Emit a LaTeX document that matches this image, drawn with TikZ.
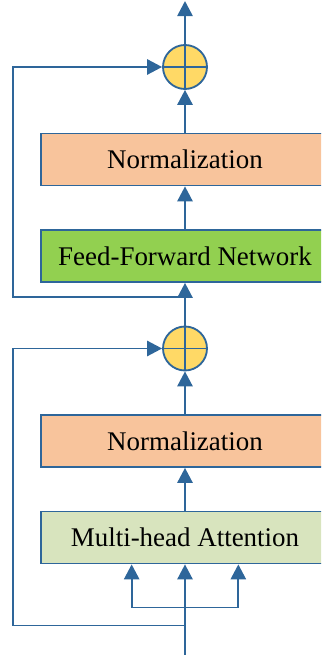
\documentclass[tikz,border=0pt]{standalone}
\usepackage{fontspec}
\setmainfont{Liberation Serif}
\usepackage{tikz}
\usetikzlibrary{arrows.meta,positioning,calc}

\definecolor{lineblue}{RGB}{46,102,154}
\definecolor{normorange}{RGB}{248,196,156}
\definecolor{ffngreen}{RGB}{146,208,80}
\definecolor{attgreen}{RGB}{216,228,190}
\definecolor{addyellow}{RGB}{255,217,102}

\begin{document}
\begin{tikzpicture}[
  >={Triangle[length=0.45cm,width=0.46cm]},
  node distance=1.28cm,
  line width=0.055cm,
  conn/.style={draw=lineblue, ->},
  block/.style={draw=lineblue, minimum width=8.64cm, minimum height=1.56cm, inner sep=0pt, font=\fontsize{23}{27}\selectfont},
  adder/.style={circle, draw=lineblue, fill=addyellow, minimum size=1.32cm, inner sep=0pt,
    path picture={\draw[lineblue] (path picture bounding box.north) -- (path picture bounding box.south)
      (path picture bounding box.west) -- (path picture bounding box.east);}}
]
\path[use as bounding box, clip] (-5.55,-3.525) rectangle (4.08,16.125);

\node[block, fill=attgreen] (att) {Multi-head Attention};
\node[block, fill=normorange, above=of att] (norm1) {Normalization};
\node[adder, above=of norm1] (add1) {};
\node[block, fill=ffngreen, above=of add1] (ffn) {Feed-Forward Network};
\node[block, fill=normorange, above=of ffn] (norm2) {Normalization};
\node[adder, above=of norm2] (add2) {};

\coordinate (in) at ($(att.south)+(0,-2.8)$);
\coordinate (fork) at ($(att.south)+(0,-1.29)$);
\coordinate (skip1) at ($(att.south)+(0,-1.83)$);
\coordinate (skip2) at ($(ffn.south)+(0,-0.42)$);
\coordinate (out) at ($(add2.north)+(0,1.29)$);

% attention input
\draw[conn] (in) -- (att.south);
\draw[conn] (fork) -| ($(att.south)+(-1.6,0)$);
\draw[conn] (fork) -| ($(att.south)+(1.6,0)$);
\draw[conn] (skip1) -- ++(-5.16,0) |- (add1.west);

\draw[conn] (att) -- (norm1);
\draw[conn] (norm1) -- (add1);
\draw[conn] (add1) -- (ffn);
\draw[conn] (skip2) -- ++(-5.16,0) |- (add2.west);
\draw[conn] (ffn) -- (norm2);
\draw[conn] (norm2) -- (add2);
\draw[conn] (add2) -- (out);
\end{tikzpicture}
\end{document}
